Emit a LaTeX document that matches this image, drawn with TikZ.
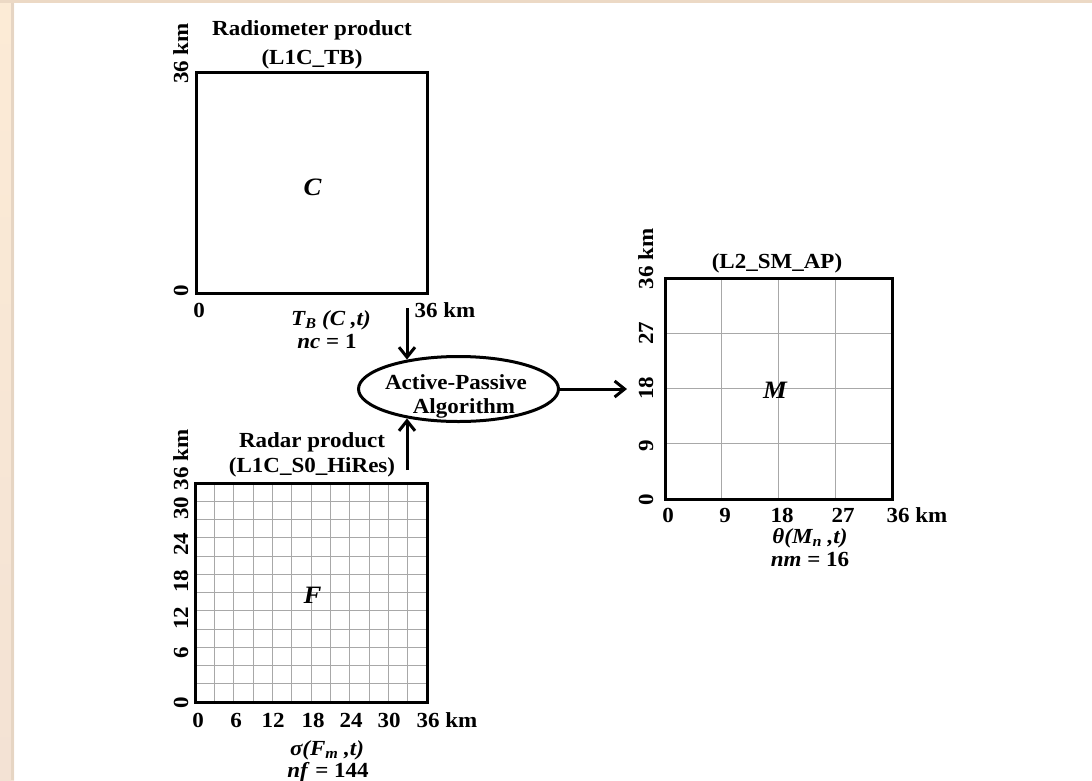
\documentclass[tikz,border=0pt]{standalone}
\usepackage{fontspec}
\setmainfont{Liberation Serif}[FakeStretch=1.07]
\usetikzlibrary{arrows.meta,shapes.geometric}
\definecolor{bgtop}{HTML}{FCEBD6}
\definecolor{bgbot}{HTML}{F3E2D4}
\definecolor{bgedge}{HTML}{E6D5C3}
\definecolor{bgstrip}{HTML}{ECD9C5}
\definecolor{gridgray}{HTML}{A8A8A8}
\begin{document}
\begin{tikzpicture}[x=1pt,y=-1pt,
  lbl/.style={font=\fontsize{21.5}{25}\selectfont\bfseries, inner sep=0pt, anchor=base},
  vlbl/.style={lbl, rotate=90},
  big/.style={font=\fontsize{25}{30}\selectfont\bfseries\itshape, inner sep=0pt, anchor=base},
  panel/.style={draw=black, line width=3pt},
  gridline/.style={draw=gridgray, line width=1pt},
  arr/.style={line width=3pt, -{Straight Barb[length=10pt,width=16pt]}}
]
\useasboundingbox (0,0) rectangle (1092,780);
% background
\fill[white] (0,0) rectangle (1092,780);
\shade[top color=bgtop, bottom color=bgbot] (0,0) rectangle (14,780);
\fill[bgedge] (11,0) rectangle (14,780);
\fill[bgstrip] (0,0) rectangle (1092,3);

% ---------- C panel ----------
\node[panel, minimum width=231pt, minimum height=221pt, inner sep=0pt] (C) at (311.5,182.5) {};
\node[big] (Clbl) at (312.5,195) {C};
\node[lbl] (Ct1) at (312,35.5) {Radiometer product};
\node[lbl] (Ct2) at (312,64) {(L1C\_TB)};
\node[vlbl] (Cy36) at (188,53.5) {36 km};
\node[vlbl] (Cy0) at (188,291) {0};
\node[lbl] (Cx0) at (199,317) {0};
\node[lbl] (Cx36) at (445,317) {36 km};
\node[lbl] (Cv) at (331,325) {\itshape T\textsubscript{B} (C ,t)};
\node[lbl] (Cn) at (327,348) {\textit{nc} = 1};

% ---------- F panel ----------
\foreach \i in {1,...,11} {
  \draw[gridline] ({195+\i*232/12},483) -- ({195+\i*232/12},702);
  \draw[gridline] (195,{483+\i*219/12}) -- (427,{483+\i*219/12});
}
\node[panel, minimum width=232pt, minimum height=219pt, inner sep=0pt] (F) at (311,592.5) {};
\node[big] (Flbl) at (312.5,603) {F};
\node[lbl] (Ft1) at (312,447) {Radar product};
\node[lbl] (Ft2) at (312,472) {(L1C\_S0\_HiRes)};
\node[vlbl] (Fy0) at (188,703) {0};
\node[vlbl] (Fy6) at (188,653) {6};
\node[vlbl] (Fy12) at (188,618) {12};
\node[vlbl] (Fy18) at (188,581) {18};
\node[vlbl] (Fy24) at (188,544) {24};
\node[vlbl] (Fy30) at (188,508) {30};
\node[vlbl] (Fy36) at (188,460) {36 km};
\node[lbl] (Fx0) at (198,727) {0};
\node[lbl] (Fx6) at (236,727) {6};
\node[lbl] (Fx12) at (273,727) {12};
\node[lbl] (Fx18) at (313,727) {18};
\node[lbl] (Fx24) at (351,727) {24};
\node[lbl] (Fx30) at (389,727) {30};
\node[lbl] (Fx36) at (447,727) {36 km};
\node[lbl] (Fv) at (327,755) {\itshape σ(F\textsubscript{m} ,t)};
\node[lbl] (Fn) at (328,777) {\textit{nf} = 144};

% ---------- M panel ----------
\foreach \i in {1,2,3} {
  \draw[gridline] ({665+\i*227/4},278) -- ({665+\i*227/4},499);
  \draw[gridline] (665,{278+\i*221/4}) -- (892,{278+\i*221/4});
}
\node[panel, minimum width=227pt, minimum height=221pt, inner sep=0pt] (M) at (778.5,388.5) {};
\node[big] (Mlbl) at (775,398) {M};
\node[lbl] (Mt) at (777,268) {(L2\_SM\_AP)};
\node[vlbl] (My36) at (653,259) {36 km};
\node[vlbl] (My27) at (653,333) {27};
\node[vlbl] (My18) at (653,388) {18};
\node[vlbl] (My9) at (653,446) {9};
\node[vlbl] (My0) at (653,500) {0};
\node[lbl] (Mx0) at (668,522) {0};
\node[lbl] (Mx9) at (725,522) {9};
\node[lbl] (Mx18) at (782,522) {18};
\node[lbl] (Mx27) at (843,522) {27};
\node[lbl] (Mx36) at (917,522) {36 km};
\node[lbl] (Mv) at (810,543.5) {\itshape θ(M\textsubscript{n} ,t)};
\node[lbl] (Mn) at (810,566) {\textit{nm} = 16};

% ---------- algorithm ----------
\node[ellipse, draw=black, line width=3pt, minimum width=200pt, minimum height=65pt,
      inner sep=0pt] (alg) at (458.5,389) {};
\node[lbl] (algt1) at (456,389) {Active-Passive};
\node[lbl] (algt2) at (464,413) {Algorithm};
\coordinate (inC) at (407,308);
\coordinate (inF) at (407,470);
\coordinate (out) at (627,389);
\draw[arr] (inC) -- (inC |- alg.150);
\draw[arr] (inF) -- (inF |- alg.210);
\draw[arr] (alg.east) -- (out);
\end{tikzpicture}
\end{document}
